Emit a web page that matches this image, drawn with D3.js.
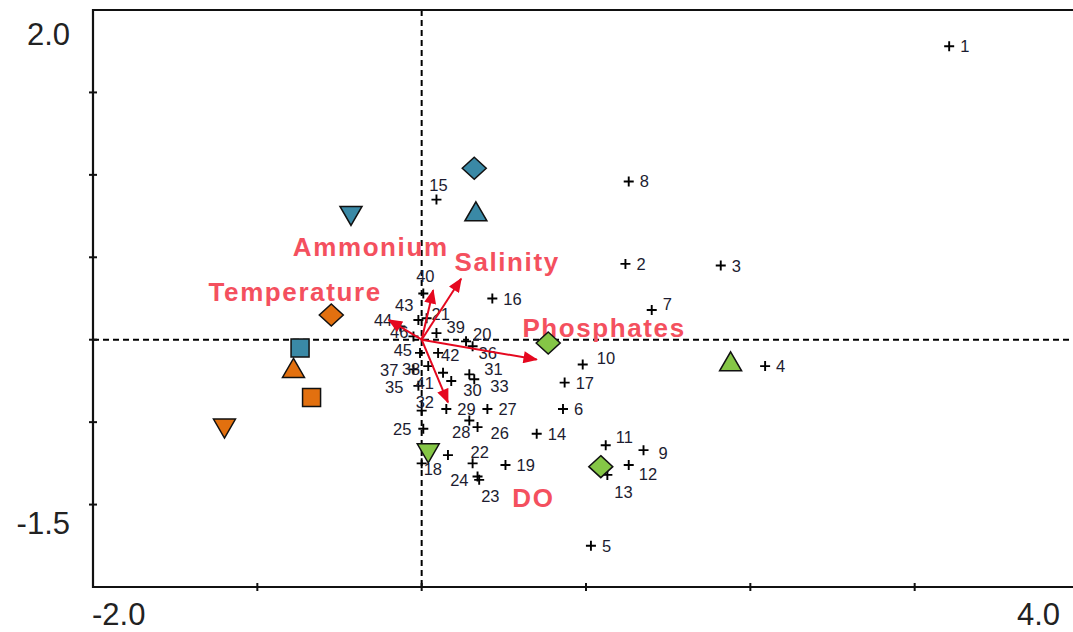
<!DOCTYPE html>
<html>
<head>
<meta charset="utf-8">
<script src="https://cdn.jsdelivr.net/npm/d3@7"></script>
<style>
  html, body { margin: 0; padding: 0; background: #fff; }
  svg { display: block; }
</style>
</head>
<body>
<svg id="chart" width="1073" height="632"></svg>
<script>
// site scores (axis 1, axis 2)
var siteNames = ["1","2","3","4","5","6","7","8","9","10","11","12","13","14","15","16","17","18","19","20","21","22","23","24","25","26","27","28","29","30","31","32","33","34","35","36","37","38","39","40","41","42","43","44","45","46"];
var siteAx1 = [3.21,1.24,1.82,2.09,1.03,0.86,1.40,1.26,1.35,0.98,1.12,1.26,1.13,0.70,0.09,0.43,0.87,0.00,0.51,0.27,0.03,0.31,0.35,0.34,0.01,0.34,0.40,0.29,0.15,0.18,0.29,0.00,0.32,0.16,-0.02,0.31,-0.05,0.04,0.09,0.01,0.13,0.10,-0.02,-0.13,-0.01,-0.05];
var siteAx2 = [1.78,0.46,0.45,-0.16,-1.25,-0.42,0.18,0.96,-0.67,-0.15,-0.64,-0.76,-0.82,-0.57,0.85,0.25,-0.26,-0.75,-0.76,-0.01,0.13,-0.75,-0.85,-0.83,-0.54,-0.53,-0.42,-0.49,-0.42,-0.25,-0.21,-0.43,-0.24,-0.70,-0.28,-0.04,-0.18,-0.16,0.04,0.28,-0.20,-0.08,0.12,0.08,-0.08,0.02];

// environmental variables (arrow tips)
var envNames = ["Ammonium","Salinity","Temperature","Phosphates","DO"];
var envAx1 = [0.07,0.24,-0.20,0.70,0.16];
var envAx2 = [0.30,0.37,0.12,-0.12,-0.38];

// group centroids
var groupClass = ["A","A","A","A","B","B","B","B","C","C","C","C"];
var groupShape = ["diamond","triangleUp","triangleDown","square","diamond","triangleUp","square","triangleDown","diamond","triangleUp","diamond","triangleDown"];
var groupAx1 = [0.32,0.33,-0.43,-0.74,-0.55,-0.78,-0.67,-1.20,0.77,1.88,1.09,0.04];
var groupAx2 = [1.04,0.77,0.76,-0.05,0.15,-0.18,-0.35,-0.53,-0.02,-0.14,-0.77,-0.68];

var xDomain = [-2.0, 4.0], yDomain = [-1.5, 2.0];
var xTickVals = [-1, 0, 1, 2, 3], yTickVals = [-1.0, -0.5, 0, 0.5, 1.0, 1.5];

// layout: label placement for sites [dx, dy, anchor]
var siteLabelAt = {
  "7": [11, -6], "9": [15, 3], "10": [14, -6], "11": [10, -8], "12": [10, 9], "13": [7, 17],
  "15": [2, -15, "middle"], "18": [2, 6], "20": [7, -7], "21": [5, -4], "22": [-2, -11],
  "23": [2, 16], "24": [-9, 3, "end"], "25": [-12, 0, "end"], "26": [13, 6], "28": [1, 12, "end"],
  "30": [12, 9], "31": [15, -5], "32": [-6, -9], "33": [16, 7], "34": null,
  "35": [-15, 1, "end"], "36": [6, 7], "37": [-15, 1, "end"], "38": [-8, 3, "end"],
  "39": [10, -6], "40": [2, -18, "middle"], "41": [-9, 10, "end"], "42": [3, 2],
  "43": [-5, -15, "end"], "44": [-8, -7, "end"], "45": [-8, -3, "end"], "46": [-5, -4, "end"]
};
// label centres for env arrows (data units)
var envLabelAx1 = [-0.31, 0.52, -0.77, 1.11, 0.68];
var envLabelAx2 = [0.56, 0.47, 0.29, 0.07, -0.96];

var classColor = { A: "#3a89a6", B: "#e2700f", C: "#85c646" };

var svg = d3.select("#chart");
var x = d3.scaleLinear().domain(xDomain).range([93, 1079]);
var y = d3.scaleLinear().domain(yDomain).range([587, 10]);
var fmt = function (v) { return d3.format(".1f")(v).replace("\u2212", "-"); };

// zero lines
svg.append("line")
    .attr("x1", x(0)).attr("x2", x(0))
    .attr("y1", y(yDomain[1])).attr("y2", y(yDomain[0]))
    .attr("stroke", "#000").attr("stroke-width", 2).attr("stroke-dasharray", "6,4");
svg.append("line")
    .attr("x1", x(xDomain[0])).attr("x2", x(xDomain[1]))
    .attr("y1", y(0)).attr("y2", y(0))
    .attr("stroke", "#000").attr("stroke-width", 2).attr("stroke-dasharray", "6,4");

// frame (left, top, bottom)
svg.append("path")
    .attr("d", "M" + x(xDomain[1]) + "," + y(yDomain[1]) + "H" + x(xDomain[0]) + "V" + y(yDomain[0]) + "H" + x(xDomain[1]))
    .attr("fill", "none").attr("stroke", "#111").attr("stroke-width", 2.2);

svg.selectAll(".ytick").data(yTickVals).enter().append("line")
    .attr("class", "ytick")
    .attr("x1", x(xDomain[0]) - 4).attr("x2", x(xDomain[0]) + 4)
    .attr("y1", function (d) { return y(d); }).attr("y2", function (d) { return y(d); })
    .attr("stroke", "#111").attr("stroke-width", 2);
svg.selectAll(".xtick").data(xTickVals).enter().append("line")
    .attr("class", "xtick")
    .attr("y1", y(yDomain[0]) - 4).attr("y2", y(yDomain[0]) + 4)
    .attr("x1", function (d) { return x(d); }).attr("x2", function (d) { return x(d); })
    .attr("stroke", "#111").attr("stroke-width", 2);

// end labels of axes
function endLabel(txt, px, py, anchor) {
    svg.append("text").text(txt)
        .attr("x", px).attr("y", py)
        .attr("text-anchor", anchor)
        .attr("dominant-baseline", "central")
        .style("font-family", "'Liberation Sans', Arial, sans-serif")
        .style("font-size", "31px").style("fill", "#222");
}
endLabel(fmt(yDomain[1]), x(xDomain[0]) - 23, y(yDomain[1]) + 24, "end");
endLabel(fmt(yDomain[0]), x(xDomain[0]) - 23, y(yDomain[0]) - 64, "end");
endLabel(fmt(xDomain[0]), x(xDomain[0]) - 1, y(yDomain[0]) + 27, "start");
endLabel(fmt(xDomain[1]), x(xDomain[1]) - 19, y(yDomain[0]) + 27, "end");

// site markers
var sites = siteNames.map(function (n, i) { return { name: n, a1: siteAx1[i], a2: siteAx2[i] }; });
var siteG = svg.append("g").selectAll("g").data(sites).enter().append("g")
    .attr("transform", function (d) { return "translate(" + x(d.a1) + "," + y(d.a2) + ")"; });
siteG.append("path")
    .attr("d", "M-5,0H5M0,-5V5")
    .attr("stroke", "#000").attr("stroke-width", 1.9);
siteG.each(function (d) {
    var at = siteLabelAt.hasOwnProperty(d.name) ? siteLabelAt[d.name] : [11, 0];
    if (!at) return;
    d3.select(this).append("text").text(d.name)
        .attr("x", at[0]).attr("y", at[1])
        .attr("text-anchor", at[2] || "start")
        .attr("dominant-baseline", "central")
        .style("font-family", "'Liberation Sans', Arial, sans-serif")
        .style("font-size", "16.5px").style("fill", "#1c1c30");
});

// env arrows
var defs = svg.append("defs");
defs.append("marker").attr("id", "ah")
    .attr("viewBox", "0 0 12 10").attr("refX", 11).attr("refY", 5)
    .attr("markerWidth", 15).attr("markerHeight", 12).attr("markerUnits", "userSpaceOnUse")
    .attr("orient", "auto")
  .append("path").attr("d", "M0,0L12,5L0,10Z").attr("fill", "#e5081f");

var envs = envNames.map(function (n, i) {
    return { name: n, a1: envAx1[i], a2: envAx2[i], l1: envLabelAx1[i], l2: envLabelAx2[i] };
});
svg.append("g").selectAll("line").data(envs).enter().append("line")
    .attr("x1", x(0)).attr("y1", y(0))
    .attr("x2", function (d) { return x(d.a1); })
    .attr("y2", function (d) { return y(d.a2); })
    .attr("stroke", "#e5081f").attr("stroke-width", 2)
    .attr("marker-end", "url(#ah)");
svg.append("g").selectAll("text").data(envs).enter().append("text")
    .text(function (d) { return d.name; })
    .attr("x", function (d) { return x(d.l1); })
    .attr("y", function (d) { return y(d.l2); })
    .attr("text-anchor", "middle")
    .attr("dominant-baseline", "central")
    .style("font-family", "'Liberation Sans', Arial, sans-serif")
    .style("font-size", "26px").style("font-weight", "bold")
    .style("letter-spacing", "1.6px")
    .style("fill", "#f4505e");

// group centroid symbols
function shapePath(shape) {
    var p = d3.path();
    if (shape === "diamond") {
        p.moveTo(0, -11); p.lineTo(12, 0); p.lineTo(0, 11); p.lineTo(-12, 0); p.closePath();
    } else if (shape === "square") {
        p.rect(-9, -9, 18, 18);
    } else if (shape === "triangleUp") {
        p.moveTo(0, -11); p.lineTo(11, 8); p.lineTo(-11, 8); p.closePath();
    } else {
        p.moveTo(0, 11); p.lineTo(11, -8); p.lineTo(-11, -8); p.closePath();
    }
    return p.toString();
}
var groups = groupClass.map(function (c, i) {
    return { cls: c, shape: groupShape[i], a1: groupAx1[i], a2: groupAx2[i] };
});
svg.append("g").selectAll("path").data(groups).enter().append("path")
    .attr("transform", function (d) { return "translate(" + x(d.a1) + "," + y(d.a2) + ")"; })
    .attr("d", function (d) { return shapePath(d.shape); })
    .attr("fill", function (d) { return classColor[d.cls]; })
    .attr("stroke", "#111").attr("stroke-width", 1.5);
</script>
</body>
</html>
